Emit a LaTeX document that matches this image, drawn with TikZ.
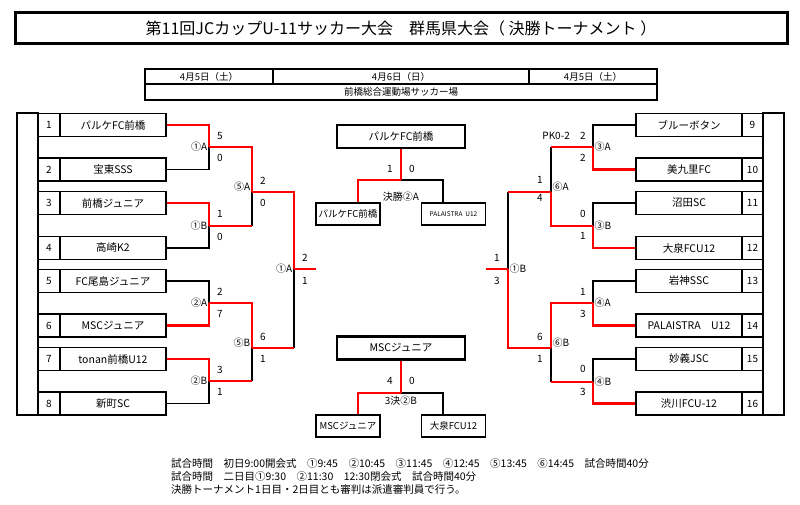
\documentclass[tikz,border=0pt]{standalone}
\usepackage{fontspec}
\setmainfont{Noto Sans CJK JP}
\begin{document}
\begin{tikzpicture}[x=1pt,y=-1pt,
    box/.style={draw,line width=1.2pt,inner sep=0pt,minimum height=23pt},
    team/.style={box,minimum width=106pt,font=\fontsize{10.5}{10.5}\selectfont},
    num/.style={box,minimum width=21pt,font=\fontsize{10}{10}\selectfont},
    hbox/.style={draw,line width=1.2pt,inner sep=0pt,font=\fontsize{9.5}{9.5}\selectfont},
    champ/.style={draw,line width=2.2pt,inner sep=0pt,minimum width=128pt,minimum height=23pt,font=\fontsize{10.5}{10.5}\selectfont},
    sub/.style={box,minimum width=64pt,minimum height=22pt,font=\fontsize{9.5}{9.5}\selectfont},
    win/.style={draw=red,line width=2.8pt},
    lose/.style={draw=black,line width=1.2pt},
    sc/.style={inner sep=0pt,font=\fontsize{10}{10}\selectfont},
    lbl/.style={inner sep=0.5pt,font=\fontsize{10}{10}\selectfont},
    note/.style={anchor=west,inner sep=0pt,font=\fontsize{10.5}{10.5}\selectfont}]
  \useasboundingbox (0,0) rectangle (800,505);
  \node[draw,line width=3pt,minimum width=772pt,minimum height=31pt,inner sep=0pt,
    font=\fontsize{16}{16}\selectfont] (title) at (401,28.5)
    {第11回JCカップU-11サッカー大会　群馬県大会（ 決勝トーナメント ）};
  \draw
    (209,76.5) node[hbox,minimum width=128pt,minimum height=15pt] (d1){4月5日（土）}
    (401,76.5) node[hbox,minimum width=256pt,minimum height=15pt] (d2){4月6日（日）}
    (593,76.5) node[hbox,minimum width=128pt,minimum height=15pt] (d3){4月5日（土）}
    (401,92) node[hbox,minimum width=512pt,minimum height=16pt] (d4){前橋総合運動場サッカー場};
  \draw[line width=2pt] (17,113) rectangle (38,415);
  \draw[line width=2pt] (763,113) rectangle (784,415);
  \draw
    (49,125) node[num] (n1){1} (113,125) node[team] (t1){パルケFC前橋}
    (49,169.5) node[num] (n2){2} (113,169.5) node[team] (t2){宝東SSS}
    (49,203) node[num] (n3){3} (113,203) node[team] (t3){前橋ジュニア}
    (49,248) node[num] (n4){4} (113,248) node[team] (t4){高崎K2}
    (49,281) node[num] (n5){5} (113,281) node[team] (t5){FC尾島ジュニア}
    (49,325.5) node[num] (n6){6} (113,325.5) node[team] (t6){MSCジュニア}
    (49,359) node[num] (n7){7} (113,359) node[team] (t7){tonan前橋U12}
    (49,403.5) node[num] (n8){8} (113,403.5) node[team] (t8){新町SC};
  \draw
    (752.5,125) node[num] (n9){9} (689,125) node[team] (t9){ブルーボタン}
    (752.5,169.5) node[num] (n10){10} (689,169.5) node[team] (t10){美九里FC}
    (752.5,203) node[num] (n11){11} (689,203) node[team] (t11){沼田SC}
    (752.5,248) node[num] (n12){12} (689,248) node[team] (t12){大泉FCU12}
    (752.5,281) node[num] (n13){13} (689,281) node[team] (t13){岩神SSC}
    (752.5,325.5) node[num] (n14){14} (689,325.5) node[team] (t14){PALAISTRA　U12}
    (752.5,359) node[num] (n15){15} (689,359) node[team] (t15){妙義JSC}
    (752.5,403.5) node[num] (n16){16} (689,403.5) node[team] (t16){渋川FCU-12};
  \coordinate (m1A) at (209,147);
  \coordinate (m1B) at (209,226);
  \coordinate (m2A) at (209,303);
  \coordinate (m2B) at (209,381);
  \coordinate (m5A) at (252,192);
  \coordinate (m5B) at (252,348);
  \coordinate (mL) at (294,269);
  \coordinate (sL) at (316,269);
  \coordinate (m3A) at (593,147);
  \coordinate (m3B) at (593,226);
  \coordinate (m4A) at (593,303);
  \coordinate (m4B) at (593,382);
  \coordinate (m6A) at (551,192);
  \coordinate (m6B) at (551,348);
  \coordinate (mR) at (508,269);
  \coordinate (sR) at (486,269);
  \draw
    (401,136.5) node[champ] (c1){パルケFC前橋}
    (348,214) node[sub] (fl){パルケFC前橋}
    (453.5,214) node[sub,font=\fontsize{6.5}{6.5}\selectfont] (fr){PALAISTRA\ \ U12}
    (401,348) node[champ] (c2){MSCジュニア}
    (348,426) node[sub] (bl){MSCジュニア}
    (453.5,426) node[sub] (br){大泉FCU12};
  \coordinate (fA) at (401,180);
  \coordinate (fB) at (401,393);
  \begin{scope}[lose]
    \draw (t2.east) -| (m1A);
    \draw (t4.east) -| (m1B);
    \draw (t5.east) -| (m2A);
    \draw (t8.east) -| (m2B);
    \draw (m1B -| m5A) -- (m5A);
    \draw (m2B -| m5B) -- (m5B);
    \draw (m5B -| mL) -- (mL);
    \draw (t9.west) -| (m3A);
    \draw (t11.west) -| (m3B);
    \draw (t13.west) -| (m4A);
    \draw (t15.west) -| (m4B);
    \draw (m3A -| m6A) -- (m6A);
    \draw (m4B -| m6B) -- (m6B);
    \draw (m6A -| mR) -- (mR);
    \draw (fA) -| ([xshift=-10.5pt]fr.north);
    \draw (fB) -| ([xshift=-10.5pt]br.north);
  \end{scope}
  \begin{scope}[win]
    \draw (t1.east) -| (m1A);
    \draw (t3.east) -| (m1B);
    \draw (t6.east) -| (m2A);
    \draw (t7.east) -| (m2B);
    \draw (m1A) -| (m5A);
    \draw (m1B) -- (m1B -| m5A);
    \draw (m2A) -| (m5B);
    \draw (m2B) -- (m2B -| m5B);
    \draw (m5A) -| (mL);
    \draw (m5B) -- (m5B -| mL);
    \draw (mL) -- (sL);
    \draw (t10.west) -| (m3A);
    \draw (t12.west) -| (m3B);
    \draw (t14.west) -| (m4A);
    \draw (t16.west) -| (m4B);
    \draw (m3A) -- (m3A -| m6A);
    \draw (m3B) -| (m6A);
    \draw (m4A) -| (m6B);
    \draw (m4B) -- (m4B -| m6B);
    \draw (m6A) -- (m6A -| mR);
    \draw (m6B) -| (mR);
    \draw (mR) -- (sR);
    \draw (c1.south) -- (fA);
    \draw (fA) -| ([xshift=10pt]fl.north);
    \draw (c2.south) -- (fB);
    \draw (fB) -| ([xshift=10pt]bl.north);
  \end{scope}
  \draw
    (208,147) node[lbl,anchor=east] (l1A){①A}
    (208,226) node[lbl,anchor=east] (l1B){①B}
    (208,303) node[lbl,anchor=east] (l2A){②A}
    (208,381) node[lbl,anchor=east] (l2B){②B}
    (251,187) node[lbl,anchor=east] (l5A){⑤A}
    (251,343) node[lbl,anchor=east] (l5B){⑤B}
    (293,269) node[lbl,anchor=east] (lL){①A}
    (594,147) node[lbl,anchor=west] (l3A){③A}
    (594,226) node[lbl,anchor=west] (l3B){③B}
    (594,303) node[lbl,anchor=west] (l4A){④A}
    (594,382) node[lbl,anchor=west] (l4B){④B}
    (552,187) node[lbl,anchor=west] (l6A){⑥A}
    (552,343) node[lbl,anchor=west] (l6B){⑥B}
    (509,269) node[lbl,anchor=west] (lR){①B}
    (401,197) node[lbl] (lfA){決勝②A}
    (401,401) node[lbl] (lfB){3決②B};
  \draw
    (220,136) node[sc] (s1){5} (220,158) node[sc] (s2){0}
    (220,214) node[sc] (s3){1} (220,237) node[sc] (s4){0}
    (220,292) node[sc] (s5){2} (220,314) node[sc] (s6){7}
    (220,370) node[sc] (s7){3} (220,392) node[sc] (s8){1}
    (263,181) node[sc] (s9){2} (263,203) node[sc] (s10){0}
    (263,337) node[sc] (s11){6} (263,359) node[sc] (s12){1}
    (305,258) node[sc] (s13){2} (305,281) node[sc] (s14){1}
    (583,136) node[sc] (s15){2} (583,158) node[sc] (s16){2}
    (570,136) node[sc,anchor=east] (pk){PK0-2}
    (583,214) node[sc] (s17){0} (583,236) node[sc] (s18){1}
    (583,292) node[sc] (s19){1} (583,314) node[sc] (s20){3}
    (583,369) node[sc] (s21){0} (583,392) node[sc] (s22){3}
    (540,180) node[sc] (s23){1} (540,198) node[sc] (s24){4}
    (540,337) node[sc] (s25){6} (540,359) node[sc] (s26){1}
    (497,258) node[sc] (s27){1} (497,281) node[sc] (s28){3}
    (390,169) node[sc] (s29){1} (412,169) node[sc] (s30){0}
    (390,381) node[sc] (s31){4} (412,381) node[sc] (s32){0};
  \draw
    (171,464) node[note] (f1){試合時間　初日9:00開会式　①9:45　②10:45　③11:45　④12:45　⑤13:45　⑥14:45　試合時間40分}
    (171,477) node[note] (f2){試合時間　二日目①9:30　②11:30　12:30閉会式　試合時間40分}
    (171,490) node[note] (f3){決勝トーナメント1日目・2日目とも審判は派遣審判員で行う。};
\end{tikzpicture}
\end{document}
